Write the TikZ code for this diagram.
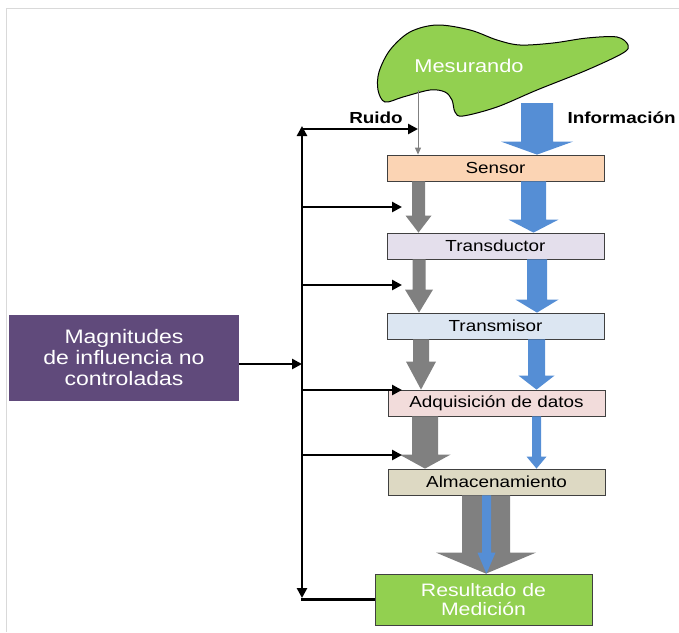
\documentclass[tikz,border=0pt]{standalone}
\usepackage{fontspec}
\setmainfont{Liberation Sans}[FakeStretch=1.18]
\usetikzlibrary{arrows.meta,calc}
\definecolor{MesClr}{HTML}{92D050}
\definecolor{SensClr}{HTML}{FBD4B4}
\definecolor{TransdClr}{HTML}{E4DFEC}
\definecolor{TransmClr}{HTML}{DCE6F2}
\definecolor{AdqClr}{HTML}{F2DCDB}
\definecolor{AlmClr}{HTML}{DDD9C3}
\definecolor{MagClr}{HTML}{604A7B}
\definecolor{InfoClr}{HTML}{558ED5}
\definecolor{NoiseClr}{HTML}{808080}

% block arrow: colour, from, to, x, half shaft, half head, head length
\newcommand\BigArrow[7]{%
\fill[#1] let \p1=(#2), \p2=(#3) in
  (#4pt-#5pt,\y1) -- (#4pt+#5pt,\y1) -- (#4pt+#5pt,\y2+#7pt) -- (#4pt+#6pt,\y2+#7pt)
  -- (#4pt,\y2) -- (#4pt-#6pt,\y2+#7pt) -- (#4pt-#5pt,\y2+#7pt) -- cycle;}

\begin{document}
\begin{tikzpicture}[x=1pt,y=-1pt,
  stage/.style={draw=black!75,line width=.8pt,minimum width=217pt,minimum height=26pt,
    inner sep=0pt,font=\fontsize{16}{19}\selectfont},
  bus/.style={line width=2.5pt,-{Triangle[length=10pt,width=10pt]}},
  label/.style={font=\fontsize{16}{19}\selectfont\bfseries}]
\useasboundingbox (0,0) rectangle (679,632);
\draw[black!15,line width=1pt] (6.5,632) -- (6.5,8.5) -- (679,8.5);

% mesurando
\filldraw[fill=MesClr,draw=black,line width=1pt] plot[smooth cycle,tension=0.55] coordinates {
  (390,50) (410,32) (437,25) (470,30) (497,40) (520,45) (553,43) (587,38) (617,37)
  (628,45) (623,53) (587,70) (537,90) (497,107) (463,116) (455,112) (452,100)
  (445,92) (430,90) (403,97) (385,102) (378,90) (379,72)};
\node[text=white,font=\fontsize{18.5}{22}\selectfont] (mes) at (469,66) {Mesurando};

% stages
\node[stage,fill=SensClr] (sensor) at (495.5,168) {Sensor};
\node[stage,fill=TransdClr] (transd) at (495.5,246) {Transductor};
\node[stage,fill=TransmClr] (transm) at (495.5,326) {Transmisor};
\node[stage,fill=AdqClr] (adq) at (496.5,403) {Adquisición de datos};
\node[stage,fill=AlmClr] (alm) at (496.5,482) {Almacenamiento};
\node[draw=black!75,line width=.8pt,fill=MesClr,minimum width=217pt,minimum height=51pt,
  inner sep=0pt,text=white,align=center,font=\fontsize{18}{19}\selectfont] (res) at (483.5,599.5)
  {Resultado de\\Medición};
\node[fill=MagClr,minimum width=230pt,minimum height=86pt,inner sep=0pt,text=white,
  align=center,font=\fontsize{19.5}{21}\selectfont] (mag) at (124,358)
  {Magnitudes\\de influencia no\\controladas};

\node[label] (ruido) at (376,118) {Ruido};
\node[label,anchor=west] (info) at (564,118) {Información};

% noise path (gray)
\coordinate (ruido-in) at (418,90);
\coordinate (info-in) at (537,103);
\draw[NoiseClr,line width=1pt,-{Triangle[length=7pt,width=6pt]}] (ruido-in) -- (ruido-in |- sensor.north);
\BigArrow{NoiseClr}{sensor.south}{transd.north}{418.5}{6.5}{13}{17}
\BigArrow{NoiseClr}{transd.south}{transm.north}{419}{6.5}{14}{23}
\BigArrow{NoiseClr}{transm.south}{adq.north}{421}{8}{15}{28}
\BigArrow{NoiseClr}{adq.south}{alm.north}{425}{13}{25.5}{14}
\BigArrow{NoiseClr}{alm.south}{res.north}{486}{24}{50}{21}

% information path (blue)
\BigArrow{InfoClr}{info-in}{sensor.north}{537}{16}{36}{13}
\BigArrow{InfoClr}{sensor.south}{transd.north}{533.5}{12.5}{25}{13}
\BigArrow{InfoClr}{transd.south}{transm.north}{537}{10}{21.5}{13}
\BigArrow{InfoClr}{transm.south}{adq.north}{536.5}{8.5}{18}{14}
\BigArrow{InfoClr}{adq.south}{alm.north}{536.5}{4.5}{10}{12}
\BigArrow{InfoClr}{alm.south}{res.north}{486.5}{4.5}{9}{21}

% influence bus
\coordinate (bus-top) at (302,129);
\coordinate (bus-bot) at (302,598);
\draw[bus,{Triangle[length=10pt,width=10pt]}-{Triangle[length=10pt,width=10pt]}]
  ([yshift=3pt]bus-top) -- (bus-bot);
\draw[bus] ([xshift=-1.25pt]bus-top) -- (ruido-in |- bus-top);
\draw[line width=2.5pt] (res.west) -- ([xshift=-1.25pt]res.west -| bus-bot);
\coordinate (mag-tap) at (302,364);
\draw[bus] (mag.east |- mag-tap) -- (mag-tap);
\foreach \yy [count=\i] in {207,285,390,455}{
  \coordinate (tap\i) at (302,\yy);
  \coordinate (hit\i) at (402,\yy);
  \draw[bus] (tap\i) -- (hit\i);
}
\end{tikzpicture}
\end{document}
